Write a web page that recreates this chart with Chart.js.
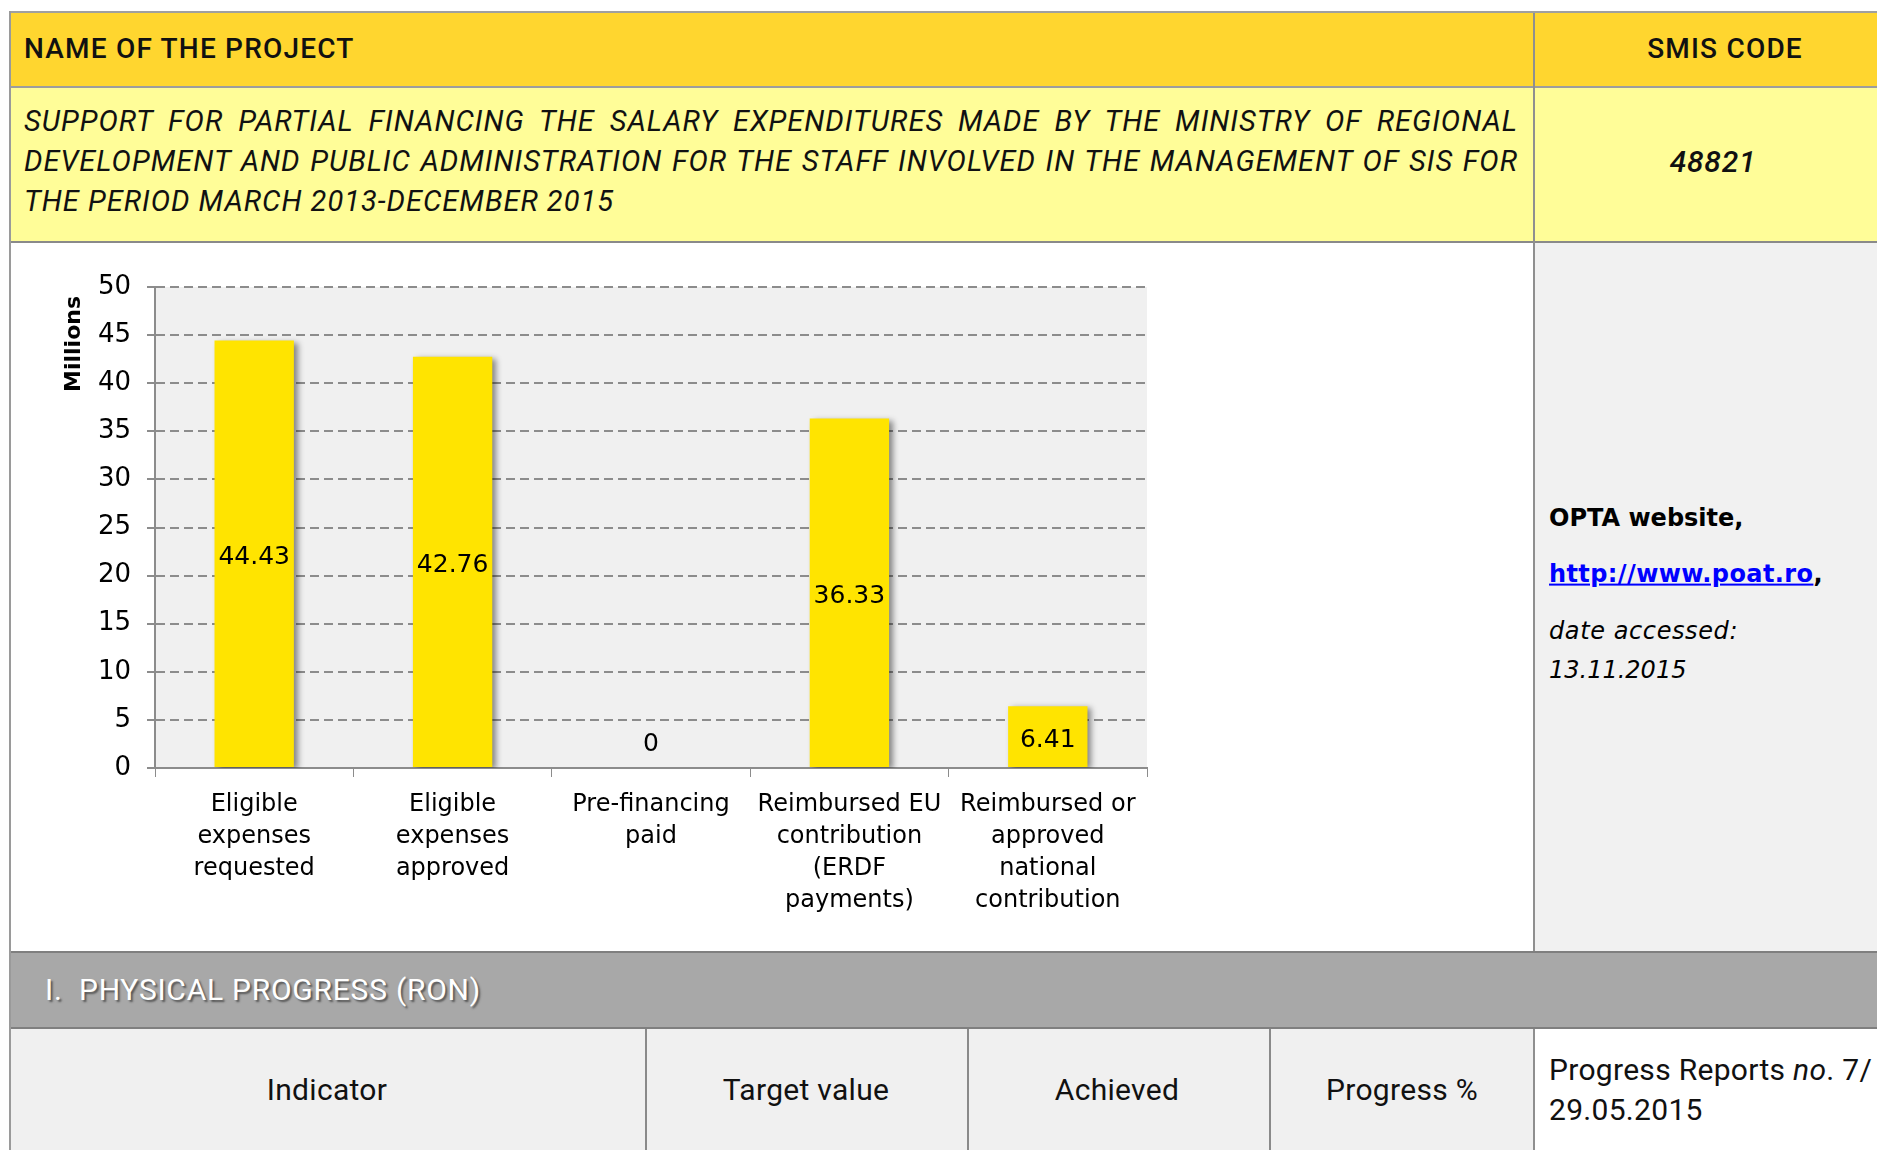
<!DOCTYPE html>
<html>
<head>
<meta charset="utf-8">
<title>Project fiche 48821</title>
<script src="https://cdn.jsdelivr.net/npm/chart.js@4/dist/chart.umd.min.js"></script>
<style>
  html, body { margin: 0; padding: 0; background: #fff; }
  body { width: 1877px; height: 1150px; position: relative; overflow: hidden; font-family: Roboto, "Noto Sans", sans-serif; color: #111; }
  .box { position: absolute; box-sizing: border-box; }
  .t { position: absolute; white-space: nowrap; line-height: 1.2; }
  .mid { transform: translateY(-50%); }
  .ctr { transform: translate(-50%, -50%); }
  .hdr { font-size: 28px; font-weight: 500; letter-spacing: 1.2px; }
  .name { position: absolute; left: 24px; width: 1494px; font-size: 29px; font-style: italic; line-height: 40px; letter-spacing: 1px; }
  .name div { white-space: nowrap; }
  .name .j { text-align: justify; text-align-last: justify; white-space: normal; }
  .src { font-family: "DejaVu Sans", sans-serif; font-size: 24px; color: #000; }
  .cols { font-size: 30px; letter-spacing: 0.3px; }
  #chartBox { position: absolute; left: 10px; top: 243px; width: 1523px; height: 708px; }
</style>
</head>
<body>

<!-- fills -->
<div class="box" style="left:11px;top:13px;width:1866px;height:73px;background:#ffd62f;"></div>
<div class="box" style="left:11px;top:88px;width:1866px;height:153px;background:#fffd98;"></div>
<div class="box" style="left:1535px;top:243px;width:342px;height:708px;background:#f1f1f1;"></div>
<div class="box" style="left:11px;top:1029px;width:1522px;height:121px;background:#f0f0f0;"></div>

<!-- rules -->
<div class="box" style="left:9px;top:11px;width:1868px;height:2px;background:#a0a0a0;"></div>
<div class="box" style="left:9px;top:11px;width:2px;height:1139px;background:#9a9a9a;"></div>
<div class="box" style="left:11px;top:86px;width:1866px;height:2px;background:#9d9d9d;"></div>
<div class="box" style="left:11px;top:241px;width:1866px;height:2px;background:#8a8a8a;"></div>
<div class="box" style="left:1533px;top:13px;width:2px;height:1137px;background:#8f8f8f;"></div>
<div class="box" style="left:645px;top:1029px;width:2px;height:121px;background:#8a8a8a;"></div>
<div class="box" style="left:967px;top:1029px;width:2px;height:121px;background:#8a8a8a;"></div>
<div class="box" style="left:1269px;top:1029px;width:2px;height:121px;background:#8a8a8a;"></div>

<!-- section band -->
<div class="box" style="left:11px;top:951px;width:1866px;height:78px;background:#a8a8a8;border-top:2px solid #7f7f7f;border-bottom:2px solid #7f7f7f;"></div>
<div class="t mid" style="left:45px;top:990px;font-size:30px;color:#fff;letter-spacing:0.75px;text-shadow:2px 2px 2px #555;">I.&nbsp;&nbsp;PHYSICAL PROGRESS (RON)</div>

<!-- header row -->
<div class="t mid hdr" style="left:24px;top:49px;">NAME OF THE PROJECT</div>
<div class="t ctr hdr" style="left:1725px;top:49px;">SMIS CODE</div>

<!-- project name -->
<div class="name" style="top:101px;">
  <div class="j">SUPPORT FOR PARTIAL FINANCING THE SALARY EXPENDITURES MADE BY THE MINISTRY OF REGIONAL</div>
  <div class="j">DEVELOPMENT AND PUBLIC ADMINISTRATION FOR THE STAFF INVOLVED IN THE MANAGEMENT OF SIS FOR</div>
  <div>THE PERIOD MARCH 2013-DECEMBER 2015</div>
</div>
<div class="t ctr" style="left:1713px;top:162px;font-size:30px;font-style:italic;font-weight:500;letter-spacing:0.8px;">48821</div>

<!-- chart -->
<div id="chartBox"><canvas id="fundsChart" width="1523" height="708"></canvas></div>

<!-- source cell -->
<div class="t mid src" style="left:1549px;top:518px;font-weight:bold;">OPTA website,</div>
<div class="t mid src" style="left:1549px;top:574px;font-weight:bold;"><span style="color:#0000ff;text-decoration:underline;letter-spacing:0.4px;">http://www.poat.ro</span>,</div>
<div class="t mid src" style="left:1549px;top:631px;font-style:italic;letter-spacing:0.6px;">date accessed:</div>
<div class="t mid src" style="left:1549px;top:670px;font-style:italic;">13.11.2015</div>

<!-- physical progress header -->
<div class="t ctr cols" style="left:327px;top:1090px;">Indicator</div>
<div class="t ctr cols" style="left:806px;top:1090px;">Target value</div>
<div class="t ctr cols" style="left:1117px;top:1090px;">Achieved</div>
<div class="t ctr cols" style="left:1402px;top:1090px;">Progress %</div>
<div class="t mid cols" style="left:1549px;top:1070px;">Progress Reports <i>no</i>. 7/</div>
<div class="t mid cols" style="left:1549px;top:1110px;">29.05.2015</div>

<script>
// financial progress, millions RON
const categories = [
  ['Eligible', 'expenses', 'requested'],
  ['Eligible', 'expenses', 'approved'],
  ['Pre-financing', 'paid'],
  ['Reimbursed EU', 'contribution', '(ERDF', 'payments)'],
  ['Reimbursed or', 'approved', 'national', 'contribution']
];
const amounts = [44.43, 42.76, 0, 36.33, 6.41];
const yMin = 0;
const yMax = 50;
const yStep = 5;

Chart.defaults.font.family = '"DejaVu Sans", sans-serif';
Chart.defaults.color = '#000';

// grey plot area behind the grid
const plotBackground = {
  id: 'plotBackground',
  beforeDraw(chart) {
    const { ctx, chartArea: a } = chart;
    ctx.save();
    ctx.fillStyle = '#f0f0f0';
    ctx.fillRect(a.left, a.top, a.width, a.height);
    ctx.restore();
  }
};

// soft drop shadow on the bars
const barShadow = {
  id: 'barShadow',
  beforeDatasetsDraw(chart) {
    const ctx = chart.ctx;
    ctx.save();
    ctx.shadowColor = 'rgba(0,0,0,0.45)';
    ctx.shadowBlur = 6;
    ctx.shadowOffsetX = 4;
    ctx.shadowOffsetY = 2;
  },
  afterDatasetsDraw(chart) {
    chart.ctx.restore();
  }
};

// value printed in the middle of each bar (just above the base when the bar is too short)
const valueLabels = {
  id: 'valueLabels',
  afterDatasetsDraw(chart) {
    const { ctx } = chart;
    const values = chart.data.datasets[0].data;
    ctx.save();
    ctx.font = '25px "DejaVu Sans"';
    ctx.fillStyle = '#000';
    ctx.textAlign = 'center';
    ctx.textBaseline = 'middle';
    chart.getDatasetMeta(0).data.forEach((bar, i) => {
      const v = values[i];
      const mid = (bar.y + bar.base) / 2 + 4;
      const y = Math.min(mid, bar.base - 24);
      ctx.fillText(v === 0 ? '0' : v.toFixed(2), bar.x, y);
    });
    ctx.restore();
  }
};

// "Millions" caption, rotated, near the top of the value axis
const axisCaption = {
  id: 'axisCaption',
  afterDraw(chart) {
    const { ctx, chartArea: a } = chart;
    ctx.save();
    ctx.translate(a.left - 81, a.top + 9);
    ctx.rotate(-Math.PI / 2);
    ctx.font = 'bold 22px "DejaVu Sans"';
    ctx.fillStyle = '#000';
    ctx.textAlign = 'right';
    ctx.textBaseline = 'middle';
    ctx.fillText('Millions', 0, 0);
    ctx.restore();
  }
};

new Chart(document.getElementById('fundsChart'), {
  type: 'bar',
  data: {
    labels: categories,
    datasets: [{
      data: amounts,
      backgroundColor: '#ffe400',
      borderWidth: 0,
      barPercentage: 0.4,
      categoryPercentage: 1
    }]
  },
  options: {
    responsive: false,
    animation: false,
    layout: { padding: { top: 44, right: 386, bottom: 0, left: 0 } },
    plugins: {
      legend: { display: false },
      tooltip: { enabled: false }
    },
    scales: {
      x: {
        grid: { drawOnChartArea: false, drawTicks: true, tickLength: 9, color: '#8c8c8c', lineWidth: 1, offset: true },
        border: { color: '#8c8c8c', width: 2 },
        ticks: {
          font: { size: 24, lineHeight: 32 / 24 },
          padding: 12,
          maxRotation: 0,
          autoSkip: false
        },
        afterFit(scale) { scale.height = 183; }
      },
      y: {
        min: yMin,
        max: yMax,
        ticks: { stepSize: yStep, font: { size: 26 }, padding: 16 },
        grid: { color: '#8c8c8c', lineWidth: 2, tickLength: 8 },
        border: { color: '#8c8c8c', width: 2, dash: [9, 5] },
        afterFit(scale) { scale.width = 145; }
      }
    }
  },
  plugins: [plotBackground, barShadow, valueLabels, axisCaption]
});
</script>
</body>
</html>
